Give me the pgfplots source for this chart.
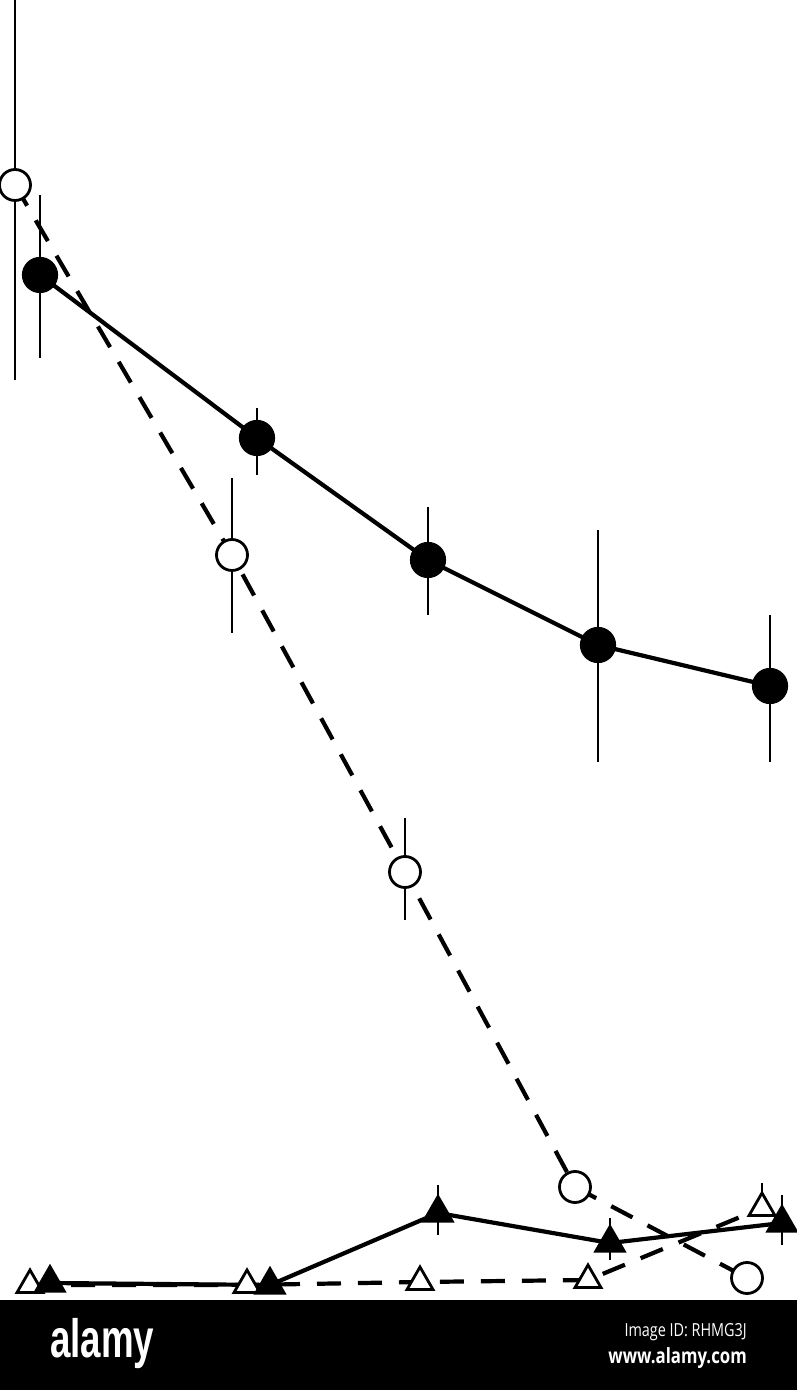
\documentclass[border=0pt]{standalone}
\usepackage{fontspec}
\usepackage{pgfplots}
\pgfplotsset{compat=1.18}
\usepackage{pgfplotstable}
\newfontfamily\logofont[FakeStretch=0.68]{Liberation Sans}
\newfontfamily\condfont[FakeStretch=0.8]{Open Sans}

% x and y (pixel scale), with upper/lower error lengths
\pgfplotstableread{
x   y     ep   em
40  1025  80   83
257 862   30   37
428 740   53   55
598 655   115  117
770 614   71   76
}\filledcirc
\pgfplotstableread{
x   y     ep   em
15  1115  185  195
232 745   77   78
405 428   54   48
575 113   12   12
747 22    0    0
}\opencirc
\pgfplotstableread{
x   y   ep  em
50  17  0   0
270 15  0   0
438 87  28  22
610 57  25  17
782 77  28  22
}\filledtri
\pgfplotstableread{
x   y   ep  em
30  15  0   0
247 15  0   0
420 18  0   0
588 20  0   0
762 92  25  0
}\opentri

\begin{document}
\begin{tikzpicture}
\fill[white] (0,0) rectangle (797pt,1300pt);
\fill[black] (0,-90pt) rectangle (797pt,0);
\begin{axis}[
    at={(0,0)}, anchor=south west,
    width=797pt, height=1300pt, scale only axis,
    xmin=0, xmax=797, ymin=0, ymax=1300,
    hide axis, clip=false,
    every axis plot/.append style={line width=4.2pt},
    error bars/y dir=both, error bars/y explicit,
    error bars/error mark=none,
    error bars/error bar style={line width=2.8pt, solid},
]
\addplot[black, dash pattern=on 24pt off 17pt, mark=*,
    mark options={solid, fill=white, draw=black, line width=2.8pt}, mark size=15.5pt]
    table[x=x, y=y, y error plus=ep, y error minus=em] {\opencirc};
\addplot[black, dash pattern=on 24pt off 17pt, mark=triangle*,
    mark options={solid, fill=white, draw=black, line width=2.8pt}, mark size=15pt]
    table[x=x, y=y, y error plus=ep, y error minus=em] {\opentri};
\addplot[black, solid, mark=triangle*, mark options={fill=black}, mark size=15pt]
    table[x=x, y=y, y error plus=ep, y error minus=em] {\filledtri};
\addplot[black, solid, mark=*, mark options={fill=black}, mark size=16pt]
    table[x=x, y=y, y error plus=ep, y error minus=em] {\filledcirc};
\end{axis}
\node[anchor=west, text=white, inner sep=0, font=\logofont\bfseries\fontsize{54}{54}\selectfont]
    at (50pt,-44pt) {alamy};
\node[anchor=east, text=white, inner sep=0, font=\condfont\fontsize{18}{18}\selectfont]
    at (747pt,-32pt) {Image ID: RHMG3J};
\node[anchor=east, text=white, inner sep=0, font=\condfont\bfseries\fontsize{21}{21}\selectfont]
    at (747pt,-58pt) {www.alamy.com};
\pgfresetboundingbox
\path[use as bounding box] (0,-90pt) rectangle (797pt,1300pt);
\end{tikzpicture}
\end{document}
